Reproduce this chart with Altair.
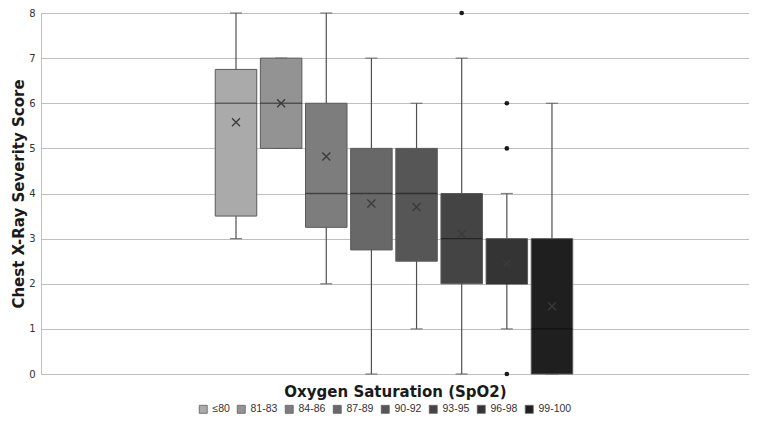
import altair as alt
import pandas as pd

categories = ["≤80", "81-83", "84-86", "87-89", "90-92", "93-95", "96-98", "99-100"]
q1 = [3.5, 5.0, 3.25, 2.75, 2.5, 2.0, 2.0, 0.0]
q3 = [6.75, 7.0, 6.0, 5.0, 5.0, 4.0, 3.0, 3.0]
medians = [6, 6, 4, 4, 4, 3, 2, 1]
means = [5.58, 6.0, 4.82, 3.78, 3.7, 3.1, 2.45, 1.5]
whisker_low = [3, 5, 2, 0, 1, 0, 1, 0]
whisker_high = [8, 7, 8, 7, 6, 7, 4, 6]
outlier_cats = ["93-95", "96-98", "96-98", "96-98"]
outlier_vals = [8, 6, 5, 0]
y_ticks = [0, 1, 2, 3, 4, 5, 6, 7, 8]

fills = ["#aaaaaa", "#939393", "#7d7d7d", "#686868", "#565656", "#444444", "#343434", "#1f1f1f"]

pos = {c: i + 1 for i, c in enumerate(categories)}
df = pd.DataFrame({
    "cat": categories, "pos": [pos[c] for c in categories],
    "q1": q1, "q3": q3, "median": medians, "mean": means,
    "lo": whisker_low, "hi": whisker_high,
})
odf = pd.DataFrame({"cat": outlier_cats, "pos": [pos[c] for c in outlier_cats], "val": outlier_vals})

FONT = "DejaVu Sans"

x_scale = alt.Scale(domain=[-3.32, 12.365], nice=False, zero=False, padding=0)
x_axis = alt.Axis(title="Oxygen Saturation (SpO2)", labels=False, ticks=False, domain=False,
                  grid=False, titleFont=FONT, titleFontSize=15, titleFontWeight="bold",
                  titleColor="#1a1a1a", titlePadding=10)
y_scale = alt.Scale(domain=[0, 8], nice=False, zero=False)
y_axis = alt.Axis(title="Chest X-Ray Severity Score", values=y_ticks, format="d", grid=True,
                  gridColor="#bfbfbf", gridWidth=1, domainColor="#bfbfbf", ticks=False,
                  labelPadding=6, labelFont=FONT, labelFontSize=10, labelColor="#333333",
                  titleFont=FONT, titleFontSize=15, titleFontWeight="bold",
                  titleColor="#1a1a1a", titlePadding=2)

X = alt.X("pos:Q", scale=x_scale, axis=x_axis)

def Y(field):
    return alt.Y(f"{field}:Q", scale=y_scale, axis=y_axis)

base = alt.Chart(df)

whiskers = base.mark_rule(color="#505050", strokeWidth=1.2).encode(x=X, y=Y("lo"), y2="hi")
cap_lo = base.mark_tick(color="#505050", size=12, thickness=1.2, orient="horizontal").encode(x=X, y=Y("lo"))
cap_hi = base.mark_tick(color="#505050", size=12, thickness=1.2, orient="horizontal").encode(x=X, y=Y("hi"))
boxes = base.mark_bar(stroke="#5a5a5a", strokeWidth=1, opacity=1, width=41.5).encode(
    x=X, y=Y("q1"), y2="q3",
    color=alt.Color("cat:N", scale=alt.Scale(domain=categories, range=fills),
                    legend=alt.Legend(orient="none", legendX=157, legendY=391,
                                      direction="horizontal", title=None,
                                      labelFont="Liberation Sans", labelFontSize=10.5,
                                      labelColor="#333333", symbolType="square",
                                      symbolSize=64, symbolStrokeColor="#606060",
                                      symbolStrokeWidth=0.8, columnPadding=5,
                                      labelOffset=4, padding=0)),
)
median_ticks = base.mark_tick(color="black", opacity=0.45, size=41.5, thickness=1.3,
                              orient="horizontal").encode(x=X, y=Y("median"))
mean_marks = base.mark_point(shape="M-1,-1L1,1M1,-1L-1,1", size=64, filled=False,
                             color="#3a3a3a", strokeWidth=1.3, opacity=1).encode(
    x=X, y=Y("mean"))
outliers = alt.Chart(odf).mark_circle(size=22, color="#1a1a1a", opacity=1).encode(
    x=X, y=Y("val"))

chart = alt.layer(whiskers, cap_lo, cap_hi, boxes, median_ticks, mean_marks, outliers).properties(
    width=708, height=361,
    autosize=alt.AutoSizeParams(type="none"),
    padding={"left": 33, "top": 5, "right": 0, "bottom": 43},
).configure_view(strokeWidth=0).configure(background="white")

chart.save("out.html", embed_options={"renderer": "svg", "actions": False})
